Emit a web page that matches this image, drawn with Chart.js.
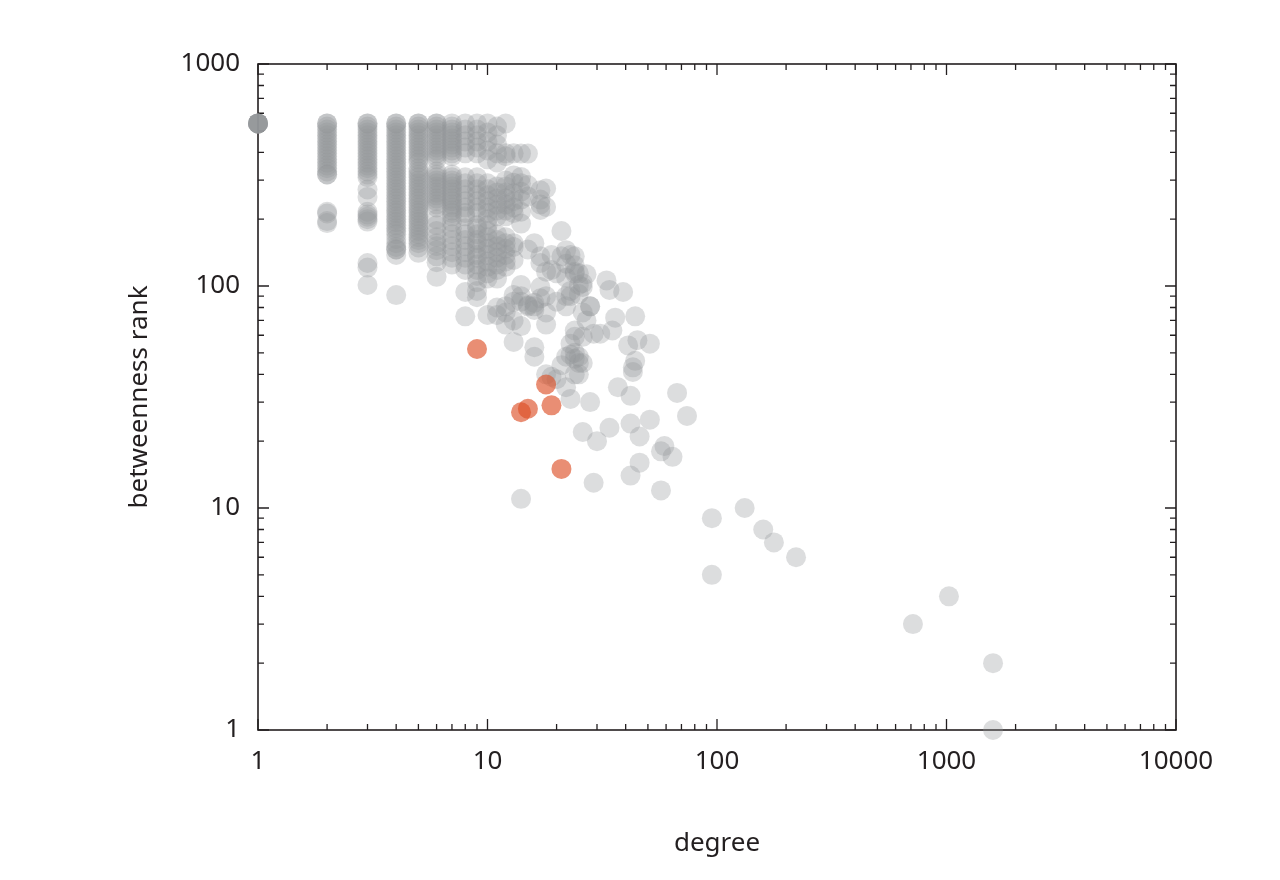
<!DOCTYPE html>
<html>
<head>
<meta charset="utf-8">
<title>degree x betweenness rank</title>
<script src="https://cdn.jsdelivr.net/npm/chart.js@4.4.1/dist/chart.umd.min.js"></script>
<style>
  html, body { margin: 0; padding: 0; background: #ffffff; }
  #wrap { width: 1280px; height: 880px; }
</style>
</head>
<body>
<div id="wrap"><canvas id="chart" width="1280" height="880"></canvas></div>
<script>
// ranks lidos por coluna de grau (1 a 13)
const rankDeg1 = [540, 540, 540, 540, 540, 540, 540, 540];
const rankDeg2 = [540, 540, 523, 507, 492, 477, 462, 448, 434, 421, 408, 396, 384, 372, 360, 349, 339, 328, 318, 318, 216, 212, 196, 192];
const rankDeg3 = [540, 540, 523, 507, 492, 477, 462, 448, 434, 421, 408, 396, 384, 372, 360, 349, 339, 328, 318, 309, 272, 252, 216, 210, 205, 200, 195, 127, 121, 101];
const rankDeg4 = [540, 540, 523, 507, 492, 477, 462, 448, 434, 421, 408, 396, 384, 372, 360, 349, 339, 328, 318, 309, 299, 290, 281, 273, 264, 256, 248, 241, 233, 226, 219, 213, 206, 200, 194, 188, 182, 177, 171, 163, 156, 150, 146, 146, 138, 91];
const rankDeg5 = [540, 540, 523, 507, 492, 477, 462, 448, 434, 421, 408, 396, 384, 372, 360, 339, 328, 318, 309, 299, 290, 281, 273, 264, 256, 248, 241, 233, 226, 219, 213, 206, 200, 194, 188, 182, 177, 171, 166, 161, 156, 149, 141];
const rankDeg6 = [540, 540, 523, 507, 492, 477, 462, 448, 434, 421, 408, 396, 384, 372, 328, 318, 309, 299, 290, 281, 273, 264, 256, 248, 241, 233, 226, 200, 188, 177, 166, 156, 151, 145, 136, 128, 110];
const rankDeg7 = [540, 523, 507, 492, 477, 462, 448, 434, 421, 408, 396, 384, 318, 309, 299, 290, 281, 273, 264, 256, 248, 241, 233, 226, 219, 213, 206, 194, 182, 171, 161, 151, 142, 134, 125];
const rankDeg8 = [540, 507, 477, 448, 421, 396, 309, 290, 273, 256, 241, 226, 213, 206, 182, 171, 161, 151, 142, 134, 125, 118, 94, 73];
const rankDeg9 = [540, 507, 477, 448, 421, 396, 309, 290, 273, 256, 241, 226, 213, 188, 182, 171, 161, 156, 147, 138, 134, 125, 118, 111, 104, 95, 89];
const rankDeg10 = [540, 492, 448, 408, 372, 290, 273, 256, 241, 226, 213, 200, 188, 177, 166, 156, 147, 138, 129, 122, 114, 108, 74];
const rankDeg11 = [523, 477, 434, 396, 360, 281, 264, 248, 233, 219, 206, 171, 161, 151, 142, 134, 125, 118, 108, 80, 74];
const rankDeg12 = [540, 396, 384, 299, 281, 264, 248, 233, 219, 206, 166, 156, 147, 138, 129, 122, 81, 76, 67];
const rankDeg13 = [396, 315, 292, 262, 241, 226, 213, 156, 150, 131, 91, 85, 70, 56];

// pontos soltos, grau >= 14
const tailDegree = [14, 15, 14, 14, 15, 14, 17, 18, 17, 17, 14, 15, 17, 18, 14, 14, 21, 16, 15, 17,
  19, 21, 22, 24, 24, 17, 19, 22, 26, 27, 18, 20, 24, 25, 17, 18, 16, 23, 22, 20,
  17, 16, 18, 22, 26, 28, 25, 23, 14, 14, 15, 14, 16, 15, 18, 14, 16, 16, 24, 24,
  23, 24, 24, 25, 23, 21, 22, 24, 19, 22, 20, 18, 25, 26, 27, 26, 25, 26, 25, 23,
  22, 24, 33, 34, 39, 28, 36, 44, 35, 31, 29, 41, 45, 51, 44, 43, 43, 37, 42, 28,
  23, 26, 34, 42, 51, 46, 30, 59, 57, 64, 46, 42, 29, 57, 67, 74, 14, 95, 95, 132,
  159, 177, 221, 714, 1025, 1595, 1595];
const tailRank = [395, 395, 310, 290, 285, 266, 270, 275, 245, 233, 245, 253, 220, 227, 216, 191, 177, 156, 146, 136,
  138, 136, 145, 136, 124, 127, 118, 109, 103, 113, 116, 114, 116, 101, 99, 90, 84, 95, 90, 85,
  88, 81, 76, 81, 76, 81, 92, 90, 101, 90, 81, 85, 78, 82, 67, 66, 48, 53, 63, 59,
  55, 50, 47, 45, 49, 44, 48, 40, 39, 35, 38, 40, 114, 99, 70, 59, 48, 45, 40, 138,
  126, 114, 106, 96, 94, 81, 72, 73, 63, 61, 61, 54, 57, 55, 46, 43, 41, 35, 32, 30,
  31, 22, 23, 24, 25, 21, 20, 19, 18, 17, 16, 14, 13, 12, 33, 26, 11, 9, 5, 10,
  8, 7, 6, 3, 4, 2, 1];

// destaques em laranja
const redDegree = [9, 14, 15, 18, 19, 21];
const redRank = [52, 27, 28, 36, 29, 15];

const xMajorTicks = [1, 10, 100, 1000, 10000];
const yMajorTicks = [1, 10, 100, 1000];
const minorSteps = [2, 3, 4, 5, 6, 7, 8, 9];

const textColor = '#231f20';
const fontFamily = '"Noto Sans", "DejaVu Sans", sans-serif';

function logTicks(majors) {
    var list = [];
    majors.forEach(function(m, i) {
        list.push({value: m});
        if (i < majors.length - 1)
            minorSteps.forEach(function(s) { list.push({value: m * s}) });
    });
    return list;
}

function buildGrayPoints() {
    var cols = [rankDeg1, rankDeg2, rankDeg3, rankDeg4, rankDeg5, rankDeg6, rankDeg7,
                rankDeg8, rankDeg9, rankDeg10, rankDeg11, rankDeg12, rankDeg13];
    var pts = [];
    cols.forEach(function(ranks, i) {
        ranks.forEach(function(r) { pts.push({x: i + 1, y: r}) });
    });
    tailDegree.forEach(function(d, i) { pts.push({x: d, y: tailRank[i]}) });
    return pts;
}

// moldura e marcas para dentro, desenhadas antes dos pontos
const frameTicks = {
    id: 'frameTicks',
    beforeDatasetsDraw(chart) {
        const ctx = chart.ctx, a = chart.chartArea;
        const x = chart.scales.x, y = chart.scales.y;
        ctx.save();
        ctx.strokeStyle = textColor;
        ctx.lineWidth = 1.6;
        ctx.strokeRect(a.left, a.top, a.right - a.left, a.bottom - a.top);
        ctx.lineWidth = 1.3;
        ctx.beginPath();
        x.ticks.forEach(function(t) {
            var px = x.getPixelForValue(t.value);
            var len = xMajorTicks.indexOf(t.value) >= 0 ? 11 : 6;
            ctx.moveTo(px, a.bottom); ctx.lineTo(px, a.bottom - len);
            ctx.moveTo(px, a.top); ctx.lineTo(px, a.top + len);
        });
        y.ticks.forEach(function(t) {
            var py = y.getPixelForValue(t.value);
            var len = yMajorTicks.indexOf(t.value) >= 0 ? 11 : 6;
            ctx.moveTo(a.left, py); ctx.lineTo(a.left + len, py);
            ctx.moveTo(a.right, py); ctx.lineTo(a.right - len, py);
        });
        ctx.stroke();
        ctx.restore();
    }
};

function buildChart() {
    const ctx = document.getElementById('chart').getContext('2d');
    new Chart(ctx, {
        type: 'scatter',
        data: {
            datasets: [
                {
                    label: 'destaque',
                    data: redDegree.map(function(d, i) { return {x: d, y: redRank[i]} }),
                    backgroundColor: 'rgba(220, 78, 38, 0.64)',
                    borderWidth: 0,
                    pointRadius: 10,
                    clip: false,
                },
                {
                    label: 'nós',
                    data: buildGrayPoints(),
                    backgroundColor: 'rgba(145, 148, 153, 0.32)',
                    borderWidth: 0,
                    pointRadius: 10,
                    clip: false,
                },
            ],
        },
        options: {
            responsive: false,
            animation: false,
            devicePixelRatio: 1,
            events: [],
            layout: { padding: { top: 64, right: 104, left: 0, bottom: 0 } },
            plugins: {
                legend: { display: false },
                tooltip: { enabled: false },
            },
            scales: {
                x: {
                    type: 'logarithmic',
                    min: 1,
                    max: 10000,
                    afterBuildTicks: function(scale) { scale.ticks = logTicks(xMajorTicks) },
                    afterFit: function(scale) { scale.height = 150 },
                    grid: { display: false, drawTicks: false },
                    border: { display: false },
                    ticks: {
                        autoSkip: false,
                        maxRotation: 0,
                        padding: 16,
                        color: textColor,
                        font: { family: fontFamily, size: 26 },
                        callback: function(v) { return xMajorTicks.indexOf(v) >= 0 ? String(v) : '' },
                    },
                    title: {
                        display: true,
                        text: 'degree',
                        color: textColor,
                        font: { family: fontFamily, size: 26 },
                        padding: { top: 0, bottom: 21 },
                    },
                },
                y: {
                    type: 'logarithmic',
                    min: 1,
                    max: 1000,
                    afterBuildTicks: function(scale) { scale.ticks = logTicks(yMajorTicks) },
                    afterFit: function(scale) { scale.width = 258 },
                    grid: { display: false, drawTicks: false },
                    border: { display: false },
                    ticks: {
                        autoSkip: false,
                        padding: 18,
                        color: textColor,
                        font: { family: fontFamily, size: 26 },
                        callback: function(v) { return yMajorTicks.indexOf(v) >= 0 ? String(v) : '' },
                    },
                    title: {
                        display: true,
                        text: 'betweenness rank',
                        color: textColor,
                        font: { family: fontFamily, size: 26 },
                        padding: { top: 124, bottom: 0 },
                    },
                },
            },
        },
        plugins: [frameTicks],
    });
}

buildChart();
</script>
</body>
</html>
